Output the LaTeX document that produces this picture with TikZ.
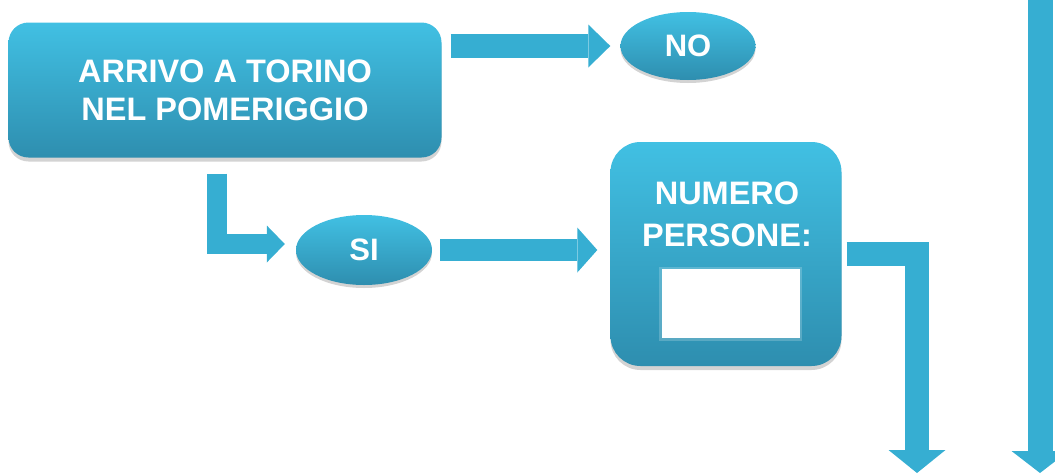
\documentclass[tikz,border=0pt]{standalone}
\usepackage{fontspec}
\setmainfont{Liberation Sans}
\usetikzlibrary{arrows.meta,shapes.geometric,shadows}

\definecolor{boxtop}{HTML}{41C0E3}
\definecolor{boxbot}{HTML}{2E8EAF}
\definecolor{flowcol}{HTML}{36AED2}

\begin{document}
\begin{tikzpicture}[x=1pt,y=-1pt,
    bigbox/.style={rectangle, rounded corners=20pt, top color=boxtop, bottom color=boxbot,
      drop shadow={shadow xshift=0pt, shadow yshift=-4pt, opacity=0.35}},
    answer/.style={ellipse, inner sep=0pt, top color=boxtop, bottom color=boxbot,
      drop shadow={shadow xshift=0pt, shadow yshift=-3pt, opacity=0.35}},
    btext/.style={text=white, align=center, font=\bfseries\fontsize{31}{38}\selectfont},
    field/.style={fill=white, draw=white, draw opacity=0.2, line width=5pt},
    flow/.style n args={3}{draw=flowcol, line join=miter, line width=#1,
      -{Triangle[width=#2, length=#3, line width=0pt]}}
  ]
        \useasboundingbox (0,0) rectangle (1055,474);

        % Question box
        \node[bigbox, minimum width=433pt, minimum height=135pt, btext,
              font=\bfseries\fontsize{32.5}{38}\selectfont] (arrivo) at (225,90)
            {ARRIVO A TORINO\\NEL POMERIGGIO};

        % Answers
        \node[answer, minimum width=135pt, minimum height=68pt, btext] (no) at (688,46) {NO};
        \node[answer, minimum width=136pt, minimum height=70pt, btext] (si) at (364,250) {SI};

        % Number of people box
        \node[bigbox, rounded corners=30pt, minimum width=231pt, minimum height=224pt] (numero) at (726,254) {};
        \node[btext, font=\bfseries\fontsize{32.5}{42}\selectfont] (numlbl) at (727,214) {NUMERO\\PERSONE:};
        \node[field, minimum width=138pt, minimum height=69pt] (campo) at (730.5,303.5) {};

        % Exits at the bottom
        \coordinate (uscita1) at (917,473);
        \coordinate (ingresso2) at (1040,0);
        \coordinate (uscita2) at (1040,473);

        % Arrows
        \draw[flow={24pt}{43pt}{22pt}, shorten <=9pt, shorten >=10pt] (arrivo.east |- no.west) -- (no.west);
        \draw[flow={20pt}{37pt}{18pt}] ([xshift=209pt, yshift=-16pt]arrivo.south west) |- ([xshift=-11pt, yshift=6pt]si.west);
        \draw[flow={22pt}{45pt}{20pt}, shorten <=8pt, shorten >=13pt] (si.east) -- (si.east -| numero.west);
        \draw[flow={24pt}{57pt}{23pt}, shorten <=5pt] (numero.east) -| (uscita1);
        \draw[flow={25pt}{57pt}{22pt}] (ingresso2) -- (uscita2);

\end{tikzpicture}
\end{document}
